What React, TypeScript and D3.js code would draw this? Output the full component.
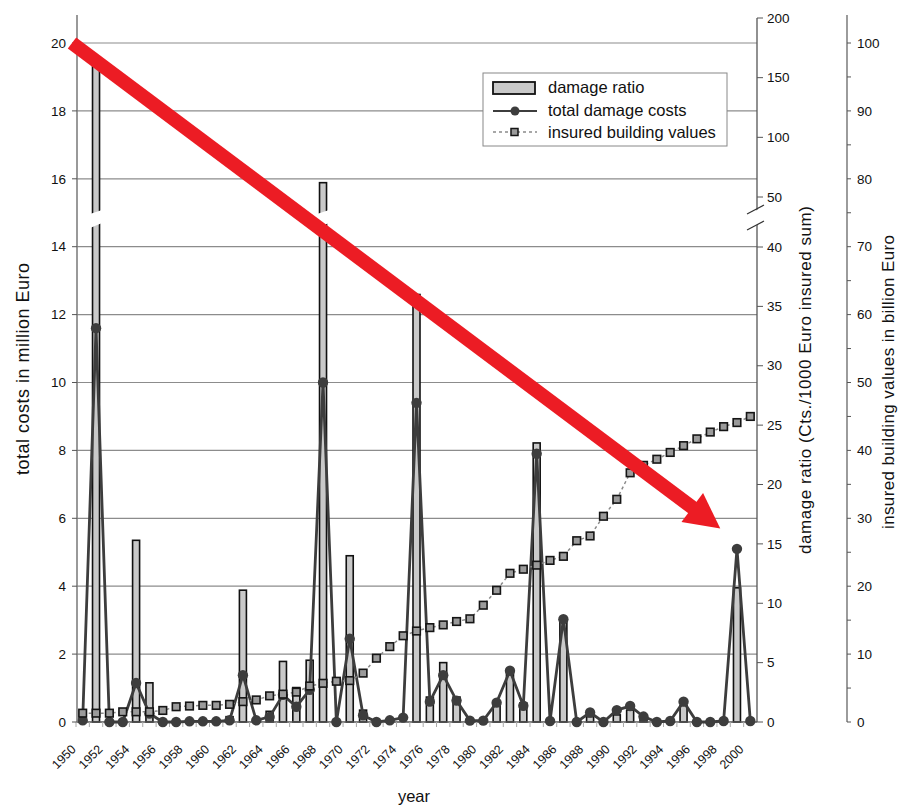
import React from 'react';
import * as d3 from 'd3';

// years on the category axis
const years = [
  1950, 1951, 1952, 1953, 1954, 1955, 1956, 1957, 1958, 1959,
  1960, 1961, 1962, 1963, 1964, 1965, 1966, 1967, 1968, 1969,
  1970, 1971, 1972, 1973, 1974, 1975, 1976, 1977, 1978, 1979,
  1980, 1981, 1982, 1983, 1984, 1985, 1986, 1987, 1988, 1989,
  1990, 1991, 1992, 1993, 1994, 1995, 1996, 1997, 1998, 1999, 2000,
];

// damage ratio (Cts./1000 Euro insured sum) - bars, broken axis
const damageRatio = [
  0, 165, 0, 0, 15.3, 3.3, 0, 0, 0, 0,
  0, 0.45, 11.1, 0, 0.9, 5.1, 2.9, 5.2, 62, 0,
  14.0, 1.0, 0, 0, 0, 36, 2.1, 5.0, 2.1, 0,
  0, 1.6, 4.1, 1.6, 23.5, 0, 8.5, 0, 0.45, 0,
  0.6, 1.0, 0.2, 0, 0, 1.4, 0, 0, 0, 11.3, 0,
];

// total damage costs in million Euro
const totalCosts = [
  0.05, 11.6, 0, 0, 1.15, 0.25, 0, 0, 0.02, 0.02,
  0.02, 0.05, 1.38, 0.05, 0.15, 0.8, 0.45, 0.95, 10.0, 0,
  2.45, 0.2, 0, 0.05, 0.13, 9.4, 0.6, 1.38, 0.63, 0.04,
  0.04, 0.57, 1.51, 0.48, 7.9, 0.03, 3.03, 0, 0.28, 0,
  0.35, 0.47, 0.16, 0, 0.03, 0.6, 0, 0, 0.03, 5.1, 0.03,
];

// insured building values in billion Euro
const insuredValues = [
  1.3, 1.3, 1.3, 1.5, 1.5, 1.5, 1.7, 2.25, 2.35, 2.45,
  2.45, 2.6, 3.0, 3.25, 3.85, 4.1, 4.4, 5.3, 5.7, 6.0,
  6.1, 7.2, 9.4, 11.1, 12.7, 13.4, 13.9, 14.3, 14.8, 15.2,
  17.2, 19.4, 21.9, 22.5, 23.1, 23.8, 24.4, 26.7, 27.4, 30.3,
  32.8, 36.7, 37.8, 38.7, 39.7, 40.7, 41.7, 42.7, 43.5, 44.1, 45.0,
];

const costTicks = [0, 2, 4, 6, 8, 10, 12, 14, 16, 18, 20];
const ratioTicks = [0, 5, 10, 15, 20, 25, 30, 35, 40, 50, 100, 150, 200];
const insuredTicks = [0, 10, 20, 30, 40, 50, 60, 70, 80, 90, 100];
const insuredMinorTicks = [5, 15, 25, 35, 45, 55, 65, 75, 85, 95];

// red annotation arrow, in data units (year, million Euro)
const arrowFrom = { year: 1949.2, cost: 20.0 };
const arrowTo = { year: 1997.75, cost: 5.7 };

const FONT = '"Liberation Sans", Arial, Helvetica, sans-serif';

const App = () => {
  const left = 77;
  const right = 757;
  const rightAxis = 847;
  const top = 43;
  const bottom = 722;

  const x = d3.scaleBand<number>().domain(years).range([76, right]);
  const cx = (yr: number) => (x(yr) as number) + x.bandwidth() / 2;
  const xLin = d3.scaleLinear().domain([1950, 2000]).range([cx(1950), cx(2000)]);

  const yCost = d3.scaleLinear().domain([0, 20]).range([bottom, top]);
  const yRatio = d3.scaleLinear().domain([0, 40, 50, 200]).range([bottom, 247, 197, 18]);
  const yIns = d3.scaleLinear().domain([0, 100]).range([bottom, top]);

  const rows = years.map((yr, i) => ({
    yr,
    ratio: damageRatio[i],
    cost: totalCosts[i],
    ins: insuredValues[i],
  }));

  const costLine = d3
    .line<any>()
    .x((d) => cx(d.yr))
    .y((d) => yCost(d.cost));
  const insLine = d3
    .line<any>()
    .x((d) => cx(d.yr))
    .y((d) => yIns(d.ins));

  const barW = 7;

  // arrow geometry
  const ax0 = xLin(arrowFrom.year);
  const ay0 = yCost(arrowFrom.cost);
  const ax1 = xLin(arrowTo.year);
  const ay1 = yCost(arrowTo.cost);
  const ang = Math.atan2(ay1 - ay0, ax1 - ax0);
  const headLen = 35;
  const headHalf = 18;
  const bx = ax1 - headLen * Math.cos(ang);
  const by = ay1 - headLen * Math.sin(ang);
  const nx = -Math.sin(ang);
  const ny = Math.cos(ang);

  return (
    <svg
      width={900}
      height={806}
      style={{ position: 'absolute', left: 0, top: 0, background: '#fff' }}
      fontFamily={FONT}
    >
      {/* grid lines */}
      {costTicks.filter((t) => t > 0).map((t) => (
        <line key={'g' + t} x1={left} x2={right} y1={yCost(t)} y2={yCost(t)} stroke="#8c8c8c" strokeWidth={1.2} />
      ))}

      {/* bars: damage ratio */}
      {rows.filter((d) => d.ratio > 0).map((d) => (
        <rect
          key={'b' + d.yr}
          x={cx(d.yr) - barW / 2}
          y={yRatio(d.ratio)}
          width={barW}
          height={bottom - yRatio(d.ratio)}
          fill="#c9c9c9"
          stroke="#111"
          strokeWidth={1.6}
        />
      ))}
      {/* cut marks on bars above the axis break */}
      {rows.filter((d) => d.ratio > 45).map((d) => {
        const c = cx(d.yr);
        return (
          <polygon
            key={'cut' + d.yr}
            points={`${c - 6},${214} ${c + 6},${210} ${c + 6},${223} ${c - 6},${228}`}
            fill="#fff"
          />
        );
      })}

      {/* x axis line and ticks */}
      <line x1={left} x2={right} y1={bottom} y2={bottom} stroke="#555" strokeWidth={1.3} />
      {years.map((yr) => (
        <line key={'xt' + yr} x1={x(yr)} x2={x(yr)} y1={bottom} y2={bottom + 5} stroke="#aaa" strokeWidth={1} />
      ))}
      {years.filter((yr) => yr % 2 === 0).map((yr) => (
        <text
          key={'xl' + yr}
          transform={`translate(${cx(yr) - 6},${750}) rotate(-45)`}
          textAnchor="end"
          fontSize={12.5}
          fill="#111"
        >
          {yr}
        </text>
      ))}
      <text x={414} y={802} textAnchor="middle" fontSize={16.5} fill="#111">year</text>

      {/* total damage costs */}
      <path d={costLine(rows) as string} fill="none" stroke="#3d3d3d" strokeWidth={2.8} />
      {rows.map((d) => (
        <circle key={'c' + d.yr} cx={cx(d.yr)} cy={yCost(d.cost)} r={5.2} fill="#3d3d3d" />
      ))}

      {/* insured building values */}
      <path d={insLine(rows) as string} fill="none" stroke="#8a8a8a" strokeWidth={1.5} strokeDasharray="3,3" />
      {rows.map((d) => (
        <rect
          key={'s' + d.yr}
          x={cx(d.yr) - 3.8}
          y={yIns(d.ins) - 3.8}
          width={7.6}
          height={7.6}
          fill="#9b9b9b"
          stroke="#151515"
          strokeWidth={1.6}
        />
      ))}

      {/* left axis */}
      <line x1={left} x2={left} y1={15} y2={bottom} stroke="#777" strokeWidth={1.5} />
      {costTicks.map((t) => (
        <g key={'lt' + t}>
          <line x1={left - 5} x2={left} y1={yCost(t)} y2={yCost(t)} stroke="#555" />
          <text x={66} y={yCost(t)} dy="0.35em" textAnchor="end" fontSize={13.5} fill="#111">{t}</text>
        </g>
      ))}
      <text
        transform={`translate(29,369) rotate(-90)`}
        textAnchor="middle"
        fontSize={18}
        textLength={212}
        lengthAdjust="spacing"
        fill="#111"
      >
        total costs in million Euro
      </text>

      {/* damage ratio axis */}
      <line x1={right} x2={right} y1={18} y2={bottom} stroke="#555" strokeWidth={1.3} />
      {ratioTicks.map((t) => (
        <g key={'rt' + t}>
          <line x1={right} x2={right + 6} y1={yRatio(t)} y2={yRatio(t)} stroke="#555" />
          <text x={right + 10} y={yRatio(t)} dy="0.35em" textAnchor="start" fontSize={13.5} fill="#111">{t}</text>
        </g>
      ))}
      <polygon points={`${right - 10},${215} ${right + 8},${206} ${right + 8},${221} ${right - 10},${230}`} fill="#fff" />
      <line x1={right - 10} y1={214} x2={right + 7} y2={205} stroke="#333" strokeWidth={1.2} />
      <line x1={right - 10} y1={230} x2={right + 7} y2={221} stroke="#333" strokeWidth={1.2} />
      <text
        transform={`translate(811,380) rotate(-90)`}
        textAnchor="middle"
        fontSize={17}
        textLength={348}
        lengthAdjust="spacing"
        fill="#111"
      >
        damage ratio (Cts./1000 Euro insured sum)
      </text>

      {/* insured values axis */}
      <line x1={rightAxis} x2={rightAxis} y1={15} y2={bottom} stroke="#666" strokeWidth={1.3} />
      {insuredMinorTicks.map((t) => (
        <line key={'im' + t} x1={rightAxis} x2={rightAxis + 4} y1={yIns(t)} y2={yIns(t)} stroke="#555" />
      ))}
      {insuredTicks.map((t) => (
        <g key={'it' + t}>
          <line x1={rightAxis} x2={rightAxis + 4} y1={yIns(t)} y2={yIns(t)} stroke="#555" />
          <text x={rightAxis + 10} y={yIns(t)} dy="0.35em" textAnchor="start" fontSize={13.5} fill="#111">{t}</text>
        </g>
      ))}
      <text
        transform={`translate(894,382) rotate(-90)`}
        textAnchor="middle"
        fontSize={17}
        textLength={294}
        lengthAdjust="spacing"
        fill="#111"
      >
        insured building values in billion Euro
      </text>

      {/* legend */}
      <g>
        <rect x={483} y={73} width={244} height={73} fill="#fff" stroke="#888" strokeWidth={1} />
        <rect x={493} y={82} width={42} height={12} fill="#c9c9c9" stroke="#111" strokeWidth={1.8} />
        <text x={548} y={93} fontSize={16.5} fill="#111">damage ratio</text>
        <line x1={493} x2={537} y1={111} y2={111} stroke="#3d3d3d" strokeWidth={2} />
        <circle cx={515} cy={111} r={4.5} fill="#3d3d3d" />
        <text x={548} y={116} fontSize={16.5} fill="#111">total damage costs</text>
        <line x1={493} x2={537} y1={132} y2={132} stroke="#8a8a8a" strokeWidth={1.4} strokeDasharray="3,3" />
        <rect x={511} y={128.5} width={7} height={7} fill="#9b9b9b" stroke="#151515" strokeWidth={1.5} />
        <text x={548} y={138} fontSize={16.5} fill="#111">insured building values</text>
      </g>

      {/* red annotation arrow */}
      <line x1={ax0} y1={ay0} x2={bx + 2 * Math.cos(ang)} y2={by + 2 * Math.sin(ang)} stroke="#ec1c24" strokeWidth={14} />
      <polygon
        points={`${ax1},${ay1} ${bx + nx * headHalf},${by + ny * headHalf} ${bx - nx * headHalf},${by - ny * headHalf}`}
        fill="#ec1c24"
      />
    </svg>
  );
};

export default App;
